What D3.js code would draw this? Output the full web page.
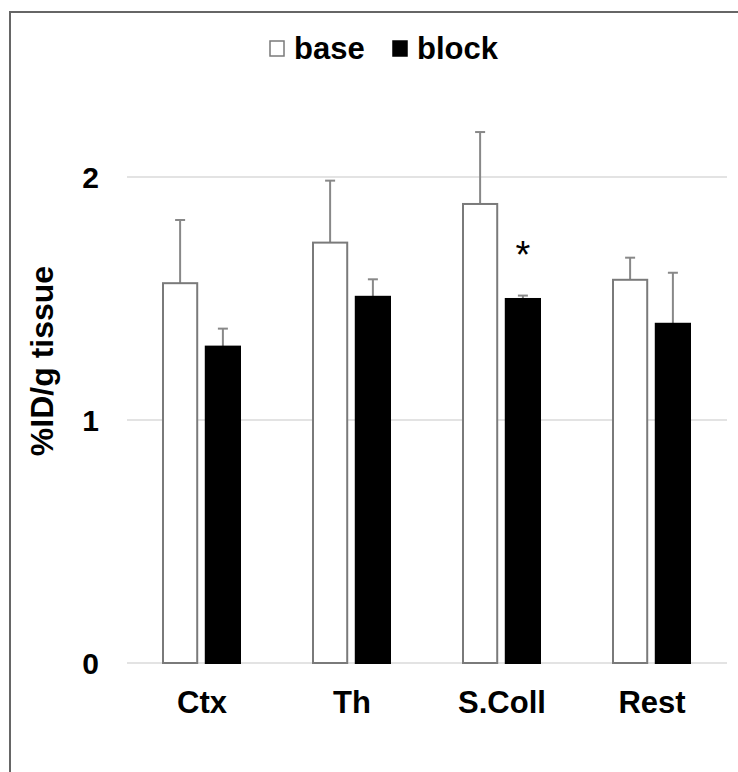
<!DOCTYPE html>
<html lang="en">
<head>
    <meta charset="UTF-8" />
    <title>%ID/g tissue</title>
    <script src="https://d3js.org/d3.v7.min.js"></script>
    <style>
        body { margin: 0; background: #fff; }
        text { font-family: "Liberation Sans", Arial, sans-serif; }
    </style>
</head>
<body>
<svg id="chart" width="738" height="772"></svg>
<script>
    // values (mean and upward SD)
    var categories = ["Ctx", "Th", "S.Coll", "Rest"];
    var series = ["base", "block"];
    var baseMean = [1.563, 1.730, 1.889, 1.577];
    var baseErr = [0.260, 0.255, 0.296, 0.091];
    var blockMean = [1.302, 1.507, 1.498, 1.396];
    var blockErr = [0.074, 0.072, 0.014, 0.210];
    var signif = ["", "", "*", ""];
    var yTicks = [0, 1, 2];

    var svg = d3.select("#chart");

    // outer frame, runs off the right and bottom edge
    svg.append("rect")
        .attr("x", 10).attr("y", 12)
        .attr("width", 760).attr("height", 800)
        .attr("fill", "none")
        .attr("stroke", "#666")
        .attr("stroke-width", 2);

    var x0 = d3.scaleBand()
        .domain(categories)
        .range([127, 727]);

    var x1 = d3.scaleBand()
        .domain(series)
        .range([36, 113])
        .paddingInner(0.2);

    var y = d3.scaleLinear()
        .domain([0, 2])
        .range([663, 177]);

    // gridlines
    svg.append("g")
        .selectAll("line")
        .data(yTicks)
        .enter()
        .append("line")
        .attr("x1", 127).attr("x2", 727)
        .attr("y1", function(d){ return y(d) })
        .attr("y2", function(d){ return y(d) })
        .attr("stroke", "#e3e3e3")
        .attr("stroke-width", 2);

    // y tick labels
    svg.append("g")
        .selectAll("text")
        .data(yTicks)
        .enter()
        .append("text")
        .attr("x", 99)
        .attr("y", function(d){ return y(d) + 11 })
        .attr("text-anchor", "end")
        .attr("font-size", 30)
        .attr("font-weight", "bold")
        .text(function(d){ return d });

    // y axis title
    svg.append("text")
        .attr("transform", "translate(53,361) rotate(-90)")
        .attr("text-anchor", "middle")
        .attr("font-size", 32)
        .attr("font-weight", "bold")
        .text("%ID/g tissue");

    var rows = categories.map(function(c, i){
        return [
            {cat: c, key: "base", v: baseMean[i], e: baseErr[i]},
            {cat: c, key: "block", v: blockMean[i], e: blockErr[i]}
        ];
    });

    var groups = svg.append("g")
        .selectAll("g")
        .data(rows)
        .enter()
        .append("g")
        .attr("transform", function(d){ return "translate(" + x0(d[0].cat) + ",0)" });

    var bars = groups.selectAll("g.bar")
        .data(function(d){ return d })
        .enter()
        .append("g")
        .attr("class", "bar");

    // error bars (upward only), drawn first so the bar outline sits on top
    bars.append("line")
        .attr("x1", function(d){ return x1(d.key) + x1.bandwidth()/2 })
        .attr("x2", function(d){ return x1(d.key) + x1.bandwidth()/2 })
        .attr("y1", function(d){ return y(d.v) })
        .attr("y2", function(d){ return y(d.v + d.e) })
        .attr("stroke", "#888")
        .attr("stroke-width", 2);

    bars.append("line")
        .attr("x1", function(d){ return x1(d.key) + x1.bandwidth()/2 - 5 })
        .attr("x2", function(d){ return x1(d.key) + x1.bandwidth()/2 + 5 })
        .attr("y1", function(d){ return y(d.v + d.e) })
        .attr("y2", function(d){ return y(d.v + d.e) })
        .attr("stroke", "#888")
        .attr("stroke-width", 2);

    bars.append("rect")
        .attr("x", function(d){ return x1(d.key) })
        .attr("y", function(d){ return y(d.v) })
        .attr("width", x1.bandwidth())
        .attr("height", function(d){ return y(0) - y(d.v) })
        .attr("fill", function(d){ return d.key == "base" ? "#fff" : "#000" })
        .attr("stroke", function(d){ return d.key == "base" ? "#7a7a7a" : "#000" })
        .attr("stroke-width", 2);

    // significance marks above the block bars
    svg.append("g")
        .selectAll("text")
        .data(categories)
        .enter()
        .append("text")
        .attr("x", function(d){ return x0(d) + x1("block") + x1.bandwidth()/2 })
        .attr("y", function(d, i){ return y(blockMean[i] + blockErr[i]) - 28 })
        .attr("text-anchor", "middle")
        .attr("font-size", 38)
        .text(function(d, i){ return signif[i] });

    // category labels
    svg.append("g")
        .selectAll("text")
        .data(categories)
        .enter()
        .append("text")
        .attr("x", function(d){ return x0(d) + x0.bandwidth()/2 })
        .attr("y", 713)
        .attr("text-anchor", "middle")
        .attr("font-size", 31)
        .attr("font-weight", "bold")
        .text(function(d){ return d });

    // legend
    var legend = [
        {label: "base", x: 270, fill: "#fff", stroke: "#7a7a7a"},
        {label: "block", x: 393, fill: "#000", stroke: "#000"}
    ];
    var lg = svg.append("g")
        .selectAll("g")
        .data(legend)
        .enter()
        .append("g");
    lg.append("rect")
        .attr("x", function(d){ return d.x })
        .attr("y", 41)
        .attr("width", 14).attr("height", 15)
        .attr("fill", function(d){ return d.fill })
        .attr("stroke", function(d){ return d.stroke })
        .attr("stroke-width", 1.5);
    lg.append("text")
        .attr("x", function(d){ return d.x + 24 })
        .attr("y", 59)
        .attr("font-size", 31)
        .attr("font-weight", "bold")
        .text(function(d){ return d.label });
</script>
</body>
</html>
